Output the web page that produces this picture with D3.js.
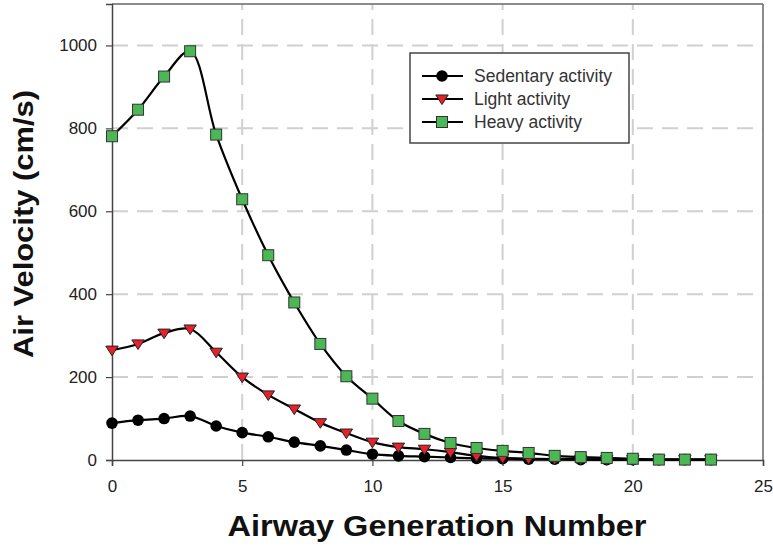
<!DOCTYPE html>
<html>
<head>
<meta charset="utf-8">
<script src="https://cdn.jsdelivr.net/npm/d3@7/dist/d3.min.js"></script>
<style>
  html, body { margin: 0; padding: 0; background: #fff; }
  svg { display: block; font-family: "Liberation Sans", Arial, sans-serif; }
</style>
</head>
<body>
<svg id="chart" width="773" height="546"></svg>
<script>
// Airway generation index (x) and velocity per activity level (cm/s)
const generations = d3.range(0, 24);
const sedentary = [89, 96, 100, 106, 82, 66, 56, 43, 34, 24, 14, 10, 8, 6, 4, 3, 2, 2, 1, 1, 1, 1, 1, 1];
const light = [265, 280, 306, 316, 260, 200, 157, 123, 90, 65, 43, 31, 26, 19, 10, 5, 3, 2, 2, 1, 1, 1, 1, 1];
const heavy = [781, 845, 925, 986, 785, 629, 494, 380, 280, 202, 148, 94, 63, 41, 29, 22, 17, 10, 7, 5, 3, 1, 1, 1];

const seriesNames = ["Sedentary activity", "Light activity", "Heavy activity"];
const xTicks = [0, 5, 10, 15, 20, 25];
const yTicks = [0, 200, 400, 600, 800, 1000];

const svg = d3.select("#chart");
const m = { left: 112, right: 763, top: 4, bottom: 460 };

const x = d3.scaleLinear().domain([0, 25]).range([m.left, m.right]);
const y = d3.scaleLinear().domain([0, 1100]).range([m.bottom, m.top]);

// Dashed grid
const grid = svg.append("g").attr("stroke", "#d0d0d0").attr("stroke-width", 2)
  .attr("stroke-dasharray", "16,9");
xTicks.filter(d => d > 0 && d < 25).forEach(d => {
  grid.append("line").attr("x1", x(d)).attr("x2", x(d)).attr("y1", y(0)).attr("y2", m.top);
});
yTicks.filter(d => d > 0).forEach(d => {
  grid.append("line").attr("x1", x(0)).attr("x2", m.right).attr("y1", y(d)).attr("y2", y(d));
});

// Frame: top and right edges
svg.append("line").attr("x1", m.left).attr("x2", m.right).attr("y1", m.top).attr("y2", m.top)
  .attr("stroke", "#666").attr("stroke-width", 1.5);
svg.append("line").attr("x1", m.right).attr("x2", m.right).attr("y1", m.top).attr("y2", m.bottom)
  .attr("stroke", "#666").attr("stroke-width", 1.5);

// Axes
const xAxis = svg.append("g").attr("transform", `translate(0,${m.bottom})`)
  .call(d3.axisBottom(x).tickValues(xTicks).tickFormat(d3.format("d")).tickSize(6).tickPadding(6));
const yAxis = svg.append("g").attr("transform", `translate(${m.left},0)`)
  .call(d3.axisLeft(y).tickValues(yTicks).tickFormat(d3.format("d")).tickSize(6).tickPadding(9));
[xAxis, yAxis].forEach(g => {
  g.select(".domain").attr("stroke", "#444").attr("stroke-width", 1.5);
  g.selectAll(".tick line").attr("stroke", "#444").attr("stroke-width", 1.2);
  g.selectAll(".tick text").attr("fill", "#222").style("font-size", "17px")
    .style("font-family", "'Liberation Sans', Arial, sans-serif");
});
xAxis.selectAll(".tick text").attr("dy", "1.15em");

// Axis titles
svg.append("text").attr("x", 437).attr("y", 536).attr("text-anchor", "middle")
  .style("font-size", "29px").style("font-weight", "bold").attr("fill", "#111")
  .attr("textLength", 419).attr("lengthAdjust", "spacingAndGlyphs")
  .text("Airway Generation Number");
svg.append("text").attr("transform", "translate(33,224) rotate(-90)").attr("text-anchor", "middle")
  .style("font-size", "28px").style("font-weight", "bold").attr("fill", "#111")
  .attr("textLength", 268).attr("lengthAdjust", "spacingAndGlyphs")
  .text("Air Velocity (cm/s)");

// Lines and markers
const lineGen = d3.line().x((d, i) => x(generations[i])).y(d => y(d))
  .curve(d3.curveCatmullRom.alpha(0.5));

const datasets = [sedentary, light, heavy];
const plot = svg.append("g");
datasets.forEach(vals => {
  plot.append("path").datum(vals).attr("d", lineGen)
    .attr("fill", "none").attr("stroke", "#000").attr("stroke-width", 2.2);
});

function drawMarker(g, kind, cx, cy) {
  if (kind === 0) {
    g.append("circle").attr("cx", cx).attr("cy", cy).attr("r", 5.8).attr("fill", "#000");
  } else if (kind === 1) {
    const s = 6.2;
    g.append("path")
      .attr("d", `M${cx - s},${cy - s * 0.65}L${cx + s},${cy - s * 0.65}L${cx},${cy + s * 0.9}Z`)
      .attr("fill", "#e8202a").attr("stroke", "#222").attr("stroke-width", 1);
  } else {
    const s = 5.5;
    g.append("rect").attr("x", cx - s).attr("y", cy - s).attr("width", 2 * s).attr("height", 2 * s)
      .attr("fill", "#4cb755").attr("stroke", "#333").attr("stroke-width", 1);
  }
}

datasets.forEach((vals, k) => {
  const g = plot.append("g");
  vals.forEach((v, i) => drawMarker(g, k, x(generations[i]), y(v)));
});

// Legend
const leg = svg.append("g");
leg.append("rect").attr("x", 410).attr("y", 53).attr("width", 219).attr("height", 90)
  .attr("fill", "#fff").attr("stroke", "#444").attr("stroke-width", 1.5);
seriesNames.forEach((name, k) => {
  const ly = 76 + k * 23;
  leg.append("line").attr("x1", 422).attr("x2", 463).attr("y1", ly).attr("y2", ly)
    .attr("stroke", "#000").attr("stroke-width", 2.2);
  drawMarker(leg, k, 442, ly);
  leg.append("text").attr("x", 474).attr("y", ly).attr("dy", "0.36em")
    .style("font-size", "17.5px").attr("fill", "#333").text(name);
});
</script>
</body>
</html>
